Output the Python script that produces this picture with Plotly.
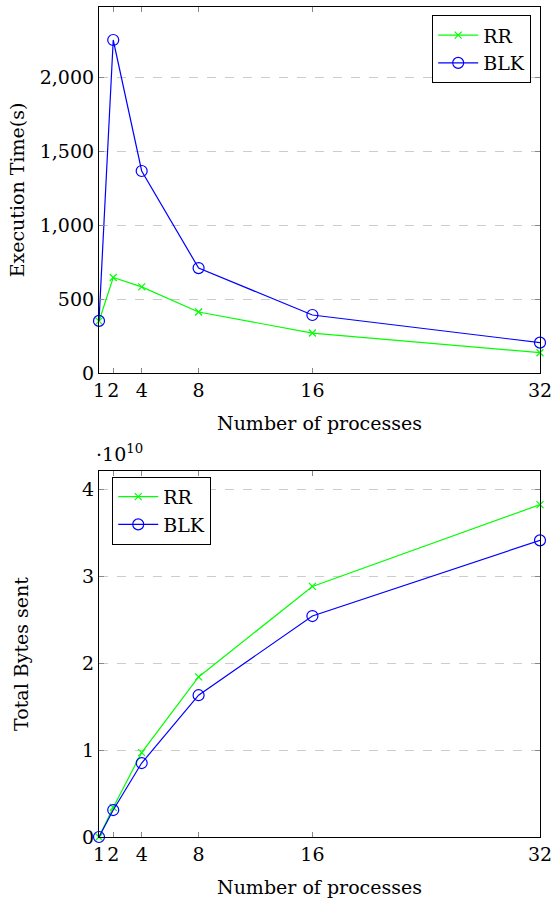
import plotly.graph_objects as go

procs = [1, 2, 4, 8, 16, 32]
time_rr = [350, 645, 582, 412, 270, 137]
time_blk = [352, 2250, 1365, 709, 392, 205]
bytes_rr_e10 = [0.0, 0.34, 0.97, 1.84, 2.88, 3.82]
bytes_blk_e10 = [0.0, 0.31, 0.85, 1.63, 2.54, 3.41]
bytes_rr = [v * 1e10 for v in bytes_rr_e10]
bytes_blk = [v * 1e10 for v in bytes_blk_e10]

x_ticks = [1, 2, 4, 8, 16, 32]
time_ticks = [0, 500, 1000, 1500, 2000]
byte_ticks = [0, 1e10, 2e10, 3e10, 4e10]
byte_ticktext = ["0", "1", "2", "3", "4"]

GREEN = "#00ff00"
BLUE = "#0000ff"
FONT = "DejaVu Serif"
FS = 19

fig = go.Figure()

def add_series(x, y, name, color, symbol, size, xa, ya, leg):
    fig.add_trace(go.Scatter(
        x=x, y=y, name=name, mode="lines+markers",
        line=dict(color=color, width=1.2),
        marker=dict(symbol=symbol, size=size, color=color,
                    line=dict(color=color, width=1.2)),
        xaxis=xa, yaxis=ya, showlegend=True, cliponaxis=False,
        legend=leg,
    ))

add_series(procs, time_rr, "RR", GREEN, "x-thin", 7, "x", "y", "legend")
add_series(procs, time_blk, "BLK", BLUE, "circle-open", 11, "x", "y", "legend")
add_series(procs, bytes_rr, "RR", GREEN, "x-thin", 7, "x2", "y2", "legend2")
add_series(procs, bytes_blk, "BLK", BLUE, "circle-open", 11, "x2", "y2", "legend2")

axis_common = dict(
    showline=True, linecolor="black", linewidth=1.2, mirror="ticks",
    ticks="inside", ticklen=5, tickcolor="#888888", tickwidth=1,
    tickfont=dict(family=FONT, size=FS, color="black"),
    zeroline=False, automargin=False,
)

H = 830.0
top_dom = [(837 - 373) / H, 1.0]
bot_dom = [0.0, (837 - 471) / H]

fig.update_layout(
    width=553, height=900,
    margin=dict(l=99, r=13, t=7, b=63),
    paper_bgcolor="white", plot_bgcolor="white",
    font=dict(family=FONT, size=FS, color="black"),
    xaxis=dict(domain=[0, 1], anchor="y", range=[1, 32], tickvals=x_ticks,
               showgrid=False,
               title=dict(text="Number of processes", font=dict(family=FONT, size=FS), standoff=16),
               **axis_common),
    yaxis=dict(domain=top_dom, anchor="x", range=[0, 2473], tickvals=time_ticks,
               tickformat=",", showgrid=True, gridcolor="#cccccc", griddash="dash",
               title=dict(text="Execution Time(s)", font=dict(family=FONT, size=FS), standoff=10),
               **axis_common),
    xaxis2=dict(domain=[0, 1], anchor="y2", range=[1, 32], tickvals=x_ticks,
                showgrid=False,
                title=dict(text="Number of processes", font=dict(family=FONT, size=FS), standoff=16),
                **axis_common),
    yaxis2=dict(domain=bot_dom, anchor="x2", range=[0, 4.207e10], tickvals=byte_ticks,
                ticktext=byte_ticktext, showgrid=True, gridcolor="#cccccc", griddash="dash",
                title=dict(text="Total Bytes sent", font=dict(family=FONT, size=FS), standoff=48),
                **axis_common),
    legend=dict(x=0.98, y=0.99, xanchor="right", yanchor="top",
                bordercolor="black", borderwidth=1, bgcolor="white", itemwidth=40,
                font=dict(family=FONT, size=FS), tracegroupgap=0),
    legend2=dict(x=0.03, y=bot_dom[1] - 0.007, xanchor="left", yanchor="top",
                 bordercolor="black", borderwidth=1, bgcolor="white", itemwidth=40,
                 font=dict(family=FONT, size=FS), tracegroupgap=0),
    annotations=[dict(text="·10<sup>10</sup>", xref="paper", yref="paper",
                      x=-0.012, y=bot_dom[1], xanchor="left", yanchor="bottom",
                      yshift=4, showarrow=False,
                      font=dict(family=FONT, size=FS, color="black"))],
)

fig.write_html("out.html")
